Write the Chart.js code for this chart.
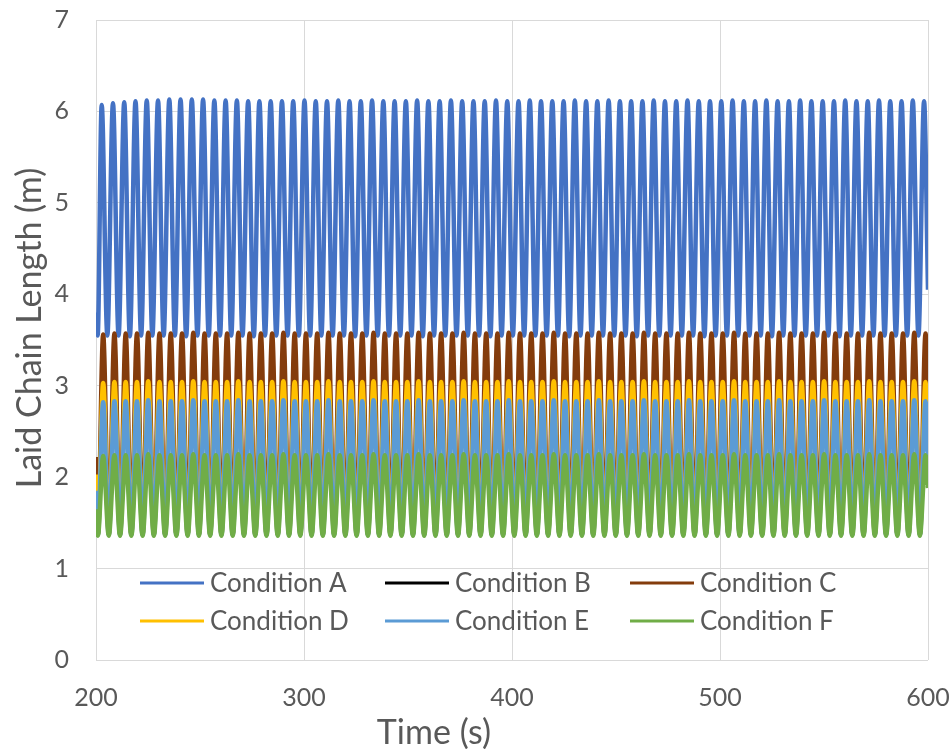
<!DOCTYPE html>
<html><head><meta charset="utf-8">
<script src="https://cdn.jsdelivr.net/npm/chart.js@4/dist/chart.umd.min.js"></script>
<style>html,body{margin:0;padding:0;background:#fff}canvas{display:block}</style>
</head><body>
<canvas id="c" width="952" height="749"></canvas>
<script>
const seriesNames = ['Condition A','Condition B','Condition C','Condition D','Condition E','Condition F'];
const seriesColors = ['#4472C4','#000000','#843C0C','#FFC000','#5B9BD5','#70AD47'];
const xTicks = [200,300,400,500,600];
const yTicks = [0,1,2,3,4,5,6,7];

// turning-point times (s)
const timeA = [200, 200.8,
202.74,205.45, 208.16,210.86, 213.57,216.28, 218.99,221.70, 224.40,227.11, 229.82,232.53, 235.24,237.94, 240.65,243.36, 246.07,248.78, 251.48,254.19,
256.90,259.61, 262.32,265.02, 267.73,270.44, 273.15,275.86, 278.56,281.27, 283.98,286.69, 289.40,292.10, 294.81,297.52, 300.23,302.94, 305.64,308.35,
311.06,313.77, 316.48,319.18, 321.89,324.60, 327.31,330.02, 332.72,335.43, 338.14,340.85, 343.56,346.26, 348.97,351.68, 354.39,357.10, 359.80,362.51,
365.22,367.93, 370.64,373.34, 376.05,378.76, 381.47,384.18, 386.88,389.59, 392.30,395.01, 397.72,400.42, 403.13,405.84, 408.55,411.26, 413.96,416.67,
419.38,422.09, 424.80,427.50, 430.21,432.92, 435.63,438.34, 441.04,443.75, 446.46,449.17, 451.88,454.58, 457.29,460.00, 462.71,465.42, 468.12,470.83,
473.54,476.25, 478.96,481.66, 484.37,487.08, 489.79,492.50, 495.20,497.91, 500.62,503.33, 506.04,508.74, 511.45,514.16, 516.87,519.58, 522.28,524.99,
527.70,530.41, 533.12,535.82, 538.53,541.24, 543.95,546.66, 549.36,552.07, 554.78,557.49, 560.20,562.90, 565.61,568.32, 571.03,573.74, 576.44,579.15,
581.86,584.57, 587.28,589.98, 592.69,595.40,
598.11, 600];

const timeOthers = [200, 200.9,
203.44,206.15, 208.86,211.56, 214.27,216.98, 219.69,222.40, 225.10,227.81, 230.52,233.23, 235.94,238.64, 241.35,244.06, 246.77,249.48, 252.18,254.89,
257.60,260.31, 263.02,265.72, 268.43,271.14, 273.85,276.56, 279.26,281.97, 284.68,287.39, 290.10,292.80, 295.51,298.22, 300.93,303.64, 306.34,309.05,
311.76,314.47, 317.18,319.88, 322.59,325.30, 328.01,330.72, 333.42,336.13, 338.84,341.55, 344.26,346.96, 349.67,352.38, 355.09,357.80, 360.50,363.21,
365.92,368.63, 371.34,374.04, 376.75,379.46, 382.17,384.88, 387.58,390.29, 393.00,395.71, 398.42,401.12, 403.83,406.54, 409.25,411.96, 414.66,417.37,
420.08,422.79, 425.50,428.20, 430.91,433.62, 436.33,439.04, 441.74,444.45, 447.16,449.87, 452.58,455.28, 457.99,460.70, 463.41,466.12, 468.82,471.53,
474.24,476.95, 479.66,482.36, 485.07,487.78, 490.49,493.20, 495.90,498.61, 501.32,504.03, 506.74,509.44, 512.15,514.86, 517.57,520.28, 522.98,525.69,
528.40,531.11, 533.82,536.52, 539.23,541.94, 544.65,547.36, 550.06,552.77, 555.48,558.19, 560.90,563.60, 566.31,569.02, 571.73,574.44, 577.14,579.85,
582.56,585.27, 587.98,590.68, 593.39,596.10,
598.81, 600];

const condA = [3.80, 3.55,
6.07,3.55, 6.09,3.55, 6.10,3.54, 6.11,3.55, 6.12,3.55, 6.12,3.55, 6.13,3.55, 6.13,3.54, 6.13,3.55, 6.13,3.55,
6.12,3.55, 6.12,3.55, 6.12,3.55, 6.11,3.54, 6.11,3.55, 6.11,3.55, 6.11,3.55, 6.11,3.55, 6.12,3.55, 6.11,3.55,
6.11,3.55, 6.12,3.55, 6.11,3.54, 6.11,3.55, 6.12,3.55, 6.11,3.55, 6.11,3.55, 6.11,3.55, 6.12,3.54, 6.11,3.55,
6.11,3.55, 6.12,3.55, 6.11,3.55, 6.11,3.55, 6.11,3.54, 6.12,3.55, 6.11,3.55, 6.11,3.55, 6.12,3.55, 6.11,3.55,
6.11,3.55, 6.11,3.54, 6.12,3.55, 6.11,3.55, 6.11,3.55, 6.12,3.55, 6.11,3.55, 6.11,3.54, 6.11,3.55, 6.12,3.55,
6.11,3.55, 6.11,3.55, 6.12,3.55, 6.11,3.54, 6.11,3.55, 6.11,3.55, 6.12,3.55, 6.11,3.55, 6.11,3.55, 6.12,3.54,
6.11,3.55, 6.11,3.55, 6.12,3.55, 6.11,3.55, 6.11,3.55, 6.11,3.54, 6.12,3.55, 6.11,3.55, 6.11,3.55, 6.12,3.55,
6.11,3.55, 6.11,3.55, 6.12,3.55,
6.11, 4.05];

const condB = [];

const condC = [2.22, 1.38,
3.56,1.38, 3.57,1.38, 3.57,1.38, 3.57,1.38, 3.58,1.38, 3.57,1.38, 3.57,1.38, 3.57,1.38, 3.58,1.38, 3.57,1.38,
3.57,1.38, 3.57,1.38, 3.58,1.38, 3.57,1.38, 3.57,1.38, 3.57,1.38, 3.58,1.38, 3.57,1.38, 3.57,1.38, 3.57,1.38,
3.58,1.38, 3.57,1.38, 3.57,1.38, 3.57,1.38, 3.58,1.38, 3.57,1.38, 3.57,1.38, 3.57,1.38, 3.58,1.38, 3.57,1.38,
3.57,1.38, 3.57,1.38, 3.58,1.38, 3.57,1.38, 3.57,1.38, 3.57,1.38, 3.58,1.38, 3.57,1.38, 3.57,1.38, 3.57,1.38,
3.58,1.38, 3.57,1.38, 3.57,1.38, 3.57,1.38, 3.58,1.38, 3.57,1.38, 3.57,1.38, 3.57,1.38, 3.58,1.38, 3.57,1.38,
3.57,1.38, 3.57,1.38, 3.58,1.38, 3.57,1.38, 3.57,1.38, 3.57,1.38, 3.58,1.38, 3.57,1.38, 3.57,1.38, 3.57,1.38,
3.58,1.38, 3.57,1.38, 3.57,1.38, 3.57,1.38, 3.58,1.38, 3.57,1.38, 3.57,1.38, 3.57,1.38, 3.58,1.38, 3.57,1.38,
3.57,1.38, 3.57,1.38, 3.58,1.38,
3.57, 2.68];

const condD = [2.03, 1.38,
3.03,1.38, 3.04,1.38, 3.04,1.38, 3.04,1.38, 3.05,1.38, 3.04,1.38, 3.04,1.38, 3.04,1.38, 3.05,1.38, 3.04,1.38,
3.04,1.38, 3.04,1.38, 3.05,1.38, 3.04,1.38, 3.04,1.38, 3.04,1.38, 3.05,1.38, 3.04,1.38, 3.04,1.38, 3.04,1.38,
3.05,1.38, 3.04,1.38, 3.04,1.38, 3.04,1.38, 3.05,1.38, 3.04,1.38, 3.04,1.38, 3.04,1.38, 3.05,1.38, 3.04,1.38,
3.04,1.38, 3.04,1.38, 3.05,1.38, 3.04,1.38, 3.04,1.38, 3.04,1.38, 3.05,1.38, 3.04,1.38, 3.04,1.38, 3.04,1.38,
3.05,1.38, 3.04,1.38, 3.04,1.38, 3.04,1.38, 3.05,1.38, 3.04,1.38, 3.04,1.38, 3.04,1.38, 3.05,1.38, 3.04,1.38,
3.04,1.38, 3.04,1.38, 3.05,1.38, 3.04,1.38, 3.04,1.38, 3.04,1.38, 3.05,1.38, 3.04,1.38, 3.04,1.38, 3.04,1.38,
3.05,1.38, 3.04,1.38, 3.04,1.38, 3.04,1.38, 3.05,1.38, 3.04,1.38, 3.04,1.38, 3.04,1.38, 3.05,1.38, 3.04,1.38,
3.04,1.38, 3.04,1.38, 3.05,1.38,
3.04, 2.37];

const condE = [1.85, 1.37,
2.82,1.37, 2.83,1.37, 2.83,1.37, 2.83,1.37, 2.84,1.37, 2.83,1.37, 2.83,1.37, 2.83,1.37, 2.84,1.37, 2.83,1.37,
2.83,1.37, 2.83,1.37, 2.84,1.37, 2.83,1.37, 2.83,1.37, 2.83,1.37, 2.84,1.37, 2.83,1.37, 2.83,1.37, 2.83,1.37,
2.84,1.37, 2.83,1.37, 2.83,1.37, 2.83,1.37, 2.84,1.37, 2.83,1.37, 2.83,1.37, 2.83,1.37, 2.84,1.37, 2.83,1.37,
2.83,1.37, 2.83,1.37, 2.84,1.37, 2.83,1.37, 2.83,1.37, 2.83,1.37, 2.84,1.37, 2.83,1.37, 2.83,1.37, 2.83,1.37,
2.84,1.37, 2.83,1.37, 2.83,1.37, 2.83,1.37, 2.84,1.37, 2.83,1.37, 2.83,1.37, 2.83,1.37, 2.84,1.37, 2.83,1.37,
2.83,1.37, 2.83,1.37, 2.84,1.37, 2.83,1.37, 2.83,1.37, 2.83,1.37, 2.84,1.37, 2.83,1.37, 2.83,1.37, 2.83,1.37,
2.84,1.37, 2.83,1.37, 2.83,1.37, 2.83,1.37, 2.84,1.37, 2.83,1.37, 2.83,1.37, 2.83,1.37, 2.84,1.37, 2.83,1.37,
2.83,1.37, 2.83,1.37, 2.84,1.37,
2.83, 2.22];

const condF = [1.65, 1.36,
2.23,1.36, 2.24,1.36, 2.24,1.36, 2.24,1.36, 2.25,1.36, 2.24,1.36, 2.24,1.36, 2.24,1.36, 2.25,1.36, 2.24,1.36,
2.24,1.36, 2.24,1.36, 2.25,1.36, 2.24,1.36, 2.24,1.36, 2.24,1.36, 2.25,1.36, 2.24,1.36, 2.24,1.36, 2.24,1.36,
2.25,1.36, 2.24,1.36, 2.24,1.36, 2.24,1.36, 2.25,1.36, 2.24,1.36, 2.24,1.36, 2.24,1.36, 2.25,1.36, 2.24,1.36,
2.24,1.36, 2.24,1.36, 2.25,1.36, 2.24,1.36, 2.24,1.36, 2.24,1.36, 2.25,1.36, 2.24,1.36, 2.24,1.36, 2.24,1.36,
2.25,1.36, 2.24,1.36, 2.24,1.36, 2.24,1.36, 2.25,1.36, 2.24,1.36, 2.24,1.36, 2.24,1.36, 2.25,1.36, 2.24,1.36,
2.24,1.36, 2.24,1.36, 2.25,1.36, 2.24,1.36, 2.24,1.36, 2.24,1.36, 2.25,1.36, 2.24,1.36, 2.24,1.36, 2.24,1.36,
2.25,1.36, 2.24,1.36, 2.24,1.36, 2.24,1.36, 2.25,1.36, 2.24,1.36, 2.24,1.36, 2.24,1.36, 2.25,1.36, 2.24,1.36,
2.24,1.36, 2.24,1.36, 2.25,1.36,
2.24, 1.88];

const seriesValues = [condA, condB, condC, condD, condE, condF];
const seriesTimes = [timeA, timeOthers, timeOthers, timeOthers, timeOthers, timeOthers];

const FONT = 'Lato, "Open Sans", sans-serif';
const TXT = '#595959';

const datasets = seriesNames.map((name, i) => ({
  label: name,
  data: seriesValues[i].map((v, j) => ({x: seriesTimes[i][j], y: v})),
  borderColor: seriesColors[i],
  backgroundColor: seriesColors[i],
  borderWidth: 4.5,
  pointRadius: 0,
  fill: false,
  cubicInterpolationMode: 'monotone',
  order: seriesNames.length - 1 - i
}));

const overlay = {
  id: 'overlay',
  afterDraw(chart) {
    const ctx = chart.ctx;
    const a = chart.chartArea;
    ctx.save();
    // legend inside plot area, 3 columns x 2 rows
    ctx.font = '26px ' + FONT;
    ctx.textBaseline = 'middle';
    ctx.textAlign = 'left';
    seriesNames.forEach((name, i) => {
      const col = i % 3, row = Math.floor(i / 3);
      const x0 = a.left + 44 + col * 245;
      const y0 = a.bottom - 77 + row * 38;
      ctx.strokeStyle = seriesColors[i];
      ctx.lineWidth = 3;
      ctx.beginPath();
      ctx.moveTo(x0, y0);
      ctx.lineTo(x0 + 64, y0);
      ctx.stroke();
      ctx.fillStyle = TXT;
      ctx.fillText(name, x0 + 70, y0 + 1);
    });
    // axis titles
    ctx.font = '34px ' + FONT;
    ctx.textAlign = 'center';
    ctx.fillText('Time (s)', 434, 733);
    ctx.translate(30, 328);
    ctx.rotate(-Math.PI / 2);
    ctx.fillText('Laid Chain Length (m)', 0, 0);
    ctx.restore();
  }
};

new Chart(document.getElementById('c'), {
  type: 'line',
  data: { datasets },
  options: {
    responsive: false,
    animation: false,
    events: [],
    layout: { padding: { top: 20, right: 24, left: 0, bottom: 0 } },
    plugins: { legend: { display: false }, tooltip: { enabled: false } },
    scales: {
      x: {
        type: 'linear', min: xTicks[0], max: xTicks[xTicks.length - 1],
        afterBuildTicks: s => { s.ticks = xTicks.map(v => ({value: v})); },
        afterFit: s => { s.height = 89; s.paddingLeft = 0; s.paddingRight = 0; },
        grid: { color: '#d9d9d9', lineWidth: 1, drawTicks: false },
        border: { display: false },
        ticks: { color: TXT, font: { family: FONT, size: 25 }, padding: 23, maxRotation: 0 }
      },
      y: {
        type: 'linear', min: yTicks[0], max: yTicks[yTicks.length - 1],
        afterBuildTicks: s => { s.ticks = yTicks.map(v => ({value: v})); },
        afterFit: s => { s.width = 96; s.paddingTop = 0; s.paddingBottom = 0; },
        grid: { color: '#d9d9d9', lineWidth: 1, drawTicks: false },
        border: { display: false },
        ticks: { color: TXT, font: { family: FONT, size: 25 }, padding: 27 }
      }
    }
  },
  plugins: [overlay]
});
</script>
</body></html>
